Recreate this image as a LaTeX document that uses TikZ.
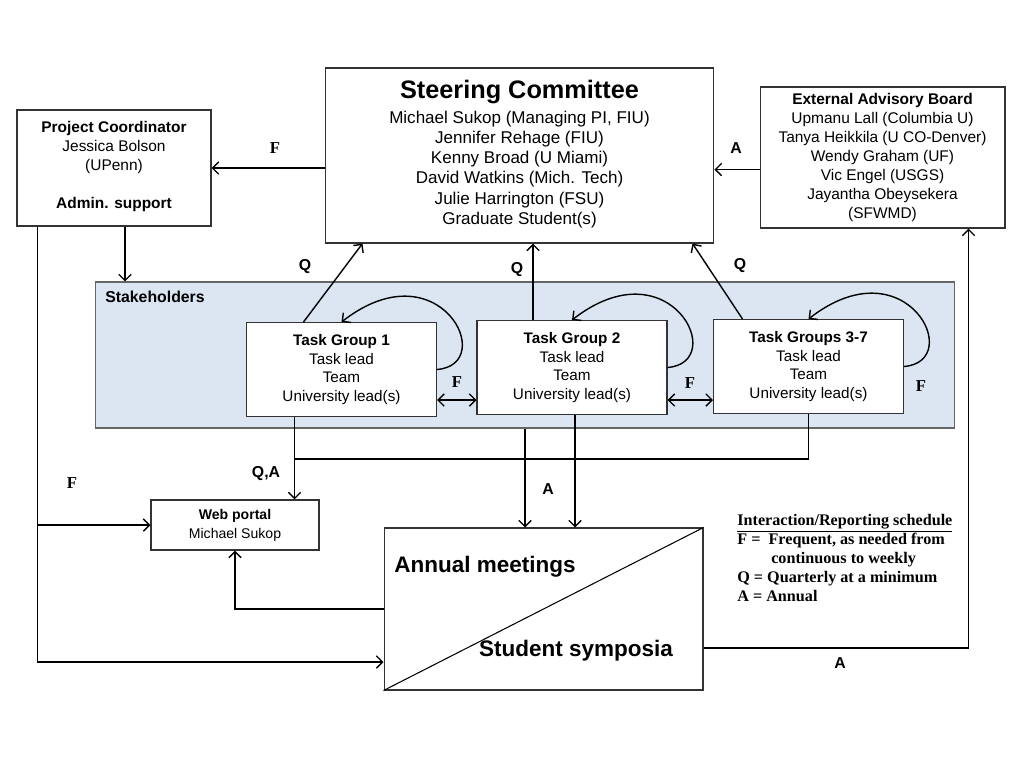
\documentclass[tikz,border=0pt]{standalone}
\usepackage{fontspec}
\setmainfont{Liberation Sans}
\newfontfamily\tnr{Liberation Serif}
\usetikzlibrary{arrows.meta,calc}
\definecolor{stkfill}{RGB}{220,230,242}

\tikzset{
  box/.style={draw=black!80, line width=0.6pt, fill=white, align=center, inner sep=0pt},
  line/.style={line width=0.8pt},
  arr/.style={line, -{Straight Barb[length=3.5pt,width=7pt]}},
  darr/.style={line, {Straight Barb[length=3.5pt,width=7pt]}-{Straight Barb[length=3.5pt,width=7pt]}},
  lbl/.style={inner sep=0pt, font=\fontsize{9}{10}\selectfont\bfseries},
  tlbl/.style={inner sep=0pt, font=\fontsize{9.5}{10}\selectfont\tnr\bfseries},
  taskbox/.style={box, minimum width=3.8cm, minimum height=1.88cm, font=\fontsize{8.7}{10.6}\selectfont},
  bigtxt/.style={inner sep=0pt, font=\fontsize{12.8}{14}\selectfont\bfseries}
}

\begin{document}
\begin{tikzpicture}[x=0.02cm, y=-0.02cm]
  \useasboundingbox[fill=white] (0,0) rectangle (1024,768);

  \node[draw=black!60, fill=stkfill, line width=0.6pt, minimum width=17.2cm, minimum height=2.92cm] (stk) at (525,355) {};
  \node[lbl, anchor=west] (stklbl) at (105,297) {Stakeholders};

  \node[box, minimum width=7.78cm, minimum height=3.5cm, font=\fontsize{9.7}{11.5}\selectfont] (sc) at (519.5,155.5)
    {{\fontsize{14.4}{17}\selectfont\bfseries Steering Committee}\\[2.5pt]
     Michael Sukop (Managing PI, FIU)\\ Jennifer Rehage (FIU)\\ Kenny Broad (U Miami)\\
     David Watkins (Mich. Tech)\\ Julie Harrington (FSU)\\ Graduate Student(s)\\[-8pt]\mbox{}};
  \node[box, minimum width=3.88cm, minimum height=2.32cm, font=\fontsize{8.8}{10.8}\selectfont] (pc) at (114,168)
    {\textbf{Project Coordinator}\\ Jessica Bolson\\ (UPenn)\\[10.8pt] \textbf{Admin. support}\\[-7pt]\mbox{}};
  \node[box, minimum width=4.9cm, minimum height=2.82cm, font=\fontsize{8.8}{10.8}\selectfont] (eab) at (882.5,157.5)
    {\textbf{External Advisory Board}\\ Upmanu Lall (Columbia U)\\ Tanya Heikkila (U CO-Denver)\\
     Wendy Graham (UF)\\ Vic Engel (USGS)\\ Jayantha Obeysekera\\ (SFWMD)};

  \node[taskbox] (tg1) at (341.5,369.5) {\textbf{Task Group 1}\\ Task lead\\ Team\\ University lead(s)};
  \node[taskbox] (tg2) at (572,367.5) {\textbf{Task Group 2}\\ Task lead\\ Team\\ University lead(s)};
  \node[taskbox] (tg3) at (808.5,366.5) {\textbf{Task Groups 3-7}\\ Task lead\\ Team\\ University lead(s)};

  \node[box, minimum width=3.36cm, minimum height=1cm, font=\fontsize{8}{10.8}\selectfont] (wp) at (235,525)
    {\textbf{Web portal}\\ Michael Sukop};
  \node[box, minimum width=6.38cm, minimum height=3.24cm] (am) at (543.5,609) {};
  \draw[line width=0.6pt] (am.south west) -- (am.north east);
  \node[bigtxt] (amtxt) at (485,567) {Annual meetings};
  \node[bigtxt] (sstxt) at (576,651) {Student symposia};

  \draw[arr] (pc.east -| sc.west) -- (pc.east);
  \draw[arr] ($(eab.west)+(0,12)$) coordinate (e1) -- (e1 -| sc.east);
  \draw[arr] ($(pc.south)+(11,0)$) coordinate (p1) -- (p1 |- stk.north);
  \draw[arr] ($(tg1.north)+(-38,0)$) -- ($(sc.south)+(-157,0)$);
  \draw[arr] ($(tg2.north)+(-39,0)$) coordinate (t2) -- (t2 |- sc.south);
  \draw[arr] ($(tg3.north)+(-66,0)$) -- ($(sc.south)+(173,0)$);

  \foreach \t in {tg1,tg2,tg3}
    \draw[arr] (\t.east) .. controls +(62,-5) and +(98,-76) .. (\t.north);

  \draw[darr] (tg1.east |- 0,400) -- (tg2.west |- 0,400);
  \draw[darr] (tg2.east |- 0,400) -- (tg3.west |- 0,400);

  \draw[arr] ($(tg1.south)+(-47,0)$) coordinate (b1) -- (b1 |- wp.north);
  \draw[line] (tg3.south) |- (b1 |- 0,459);
  \draw[arr] (stk.south) -- (stk.south |- am.north);
  \draw[arr] ($(tg2.south)+(3,0)$) coordinate (b2) -- (b2 |- am.north);
  \draw[arr] (am.west) -| (wp.south);
  \draw[arr] ($(pc.south west)+(21,0)$) coordinate (p2) |- ($(am.west)+(0,53)$);
  \draw[arr] (p2 |- wp.west) -- (wp.west);
  \draw[arr] ($(am.east)+(0,39)$) -| ($(eab.south)+(86,0)$);

  \node[tlbl] (f1) at (275,148) {F};
  \node[lbl] (a1) at (736,148) {A};
  \node[lbl] (q1) at (305,267) {Q};
  \node[lbl] (q2) at (517,270) {Q};
  \node[lbl] (q3) at (740,266) {Q};
  \node[tlbl] (f2) at (457,382) {F};
  \node[tlbl] (f3) at (690,383) {F};
  \node[tlbl] (f4) at (921,386) {F};
  \node[lbl] (qa) at (266,474) {Q,A};
  \node[lbl] (a2) at (548,489) {A};
  \node[tlbl] (f5) at (72,483) {F};
  \node[lbl] (a3) at (840,663) {A};

  \node[anchor=north west, inner sep=0pt, align=left, font=\fontsize{9.2}{10.8}\selectfont\tnr\bfseries] (key) at (737,514)
    {\underline{Interaction/Reporting schedule}\\ F =\ \ Frequent, as needed from\\
     \hspace*{2.1em}continuous to weekly\\ Q = Quarterly at a minimum\\ A = Annual};
\end{tikzpicture}
\end{document}
